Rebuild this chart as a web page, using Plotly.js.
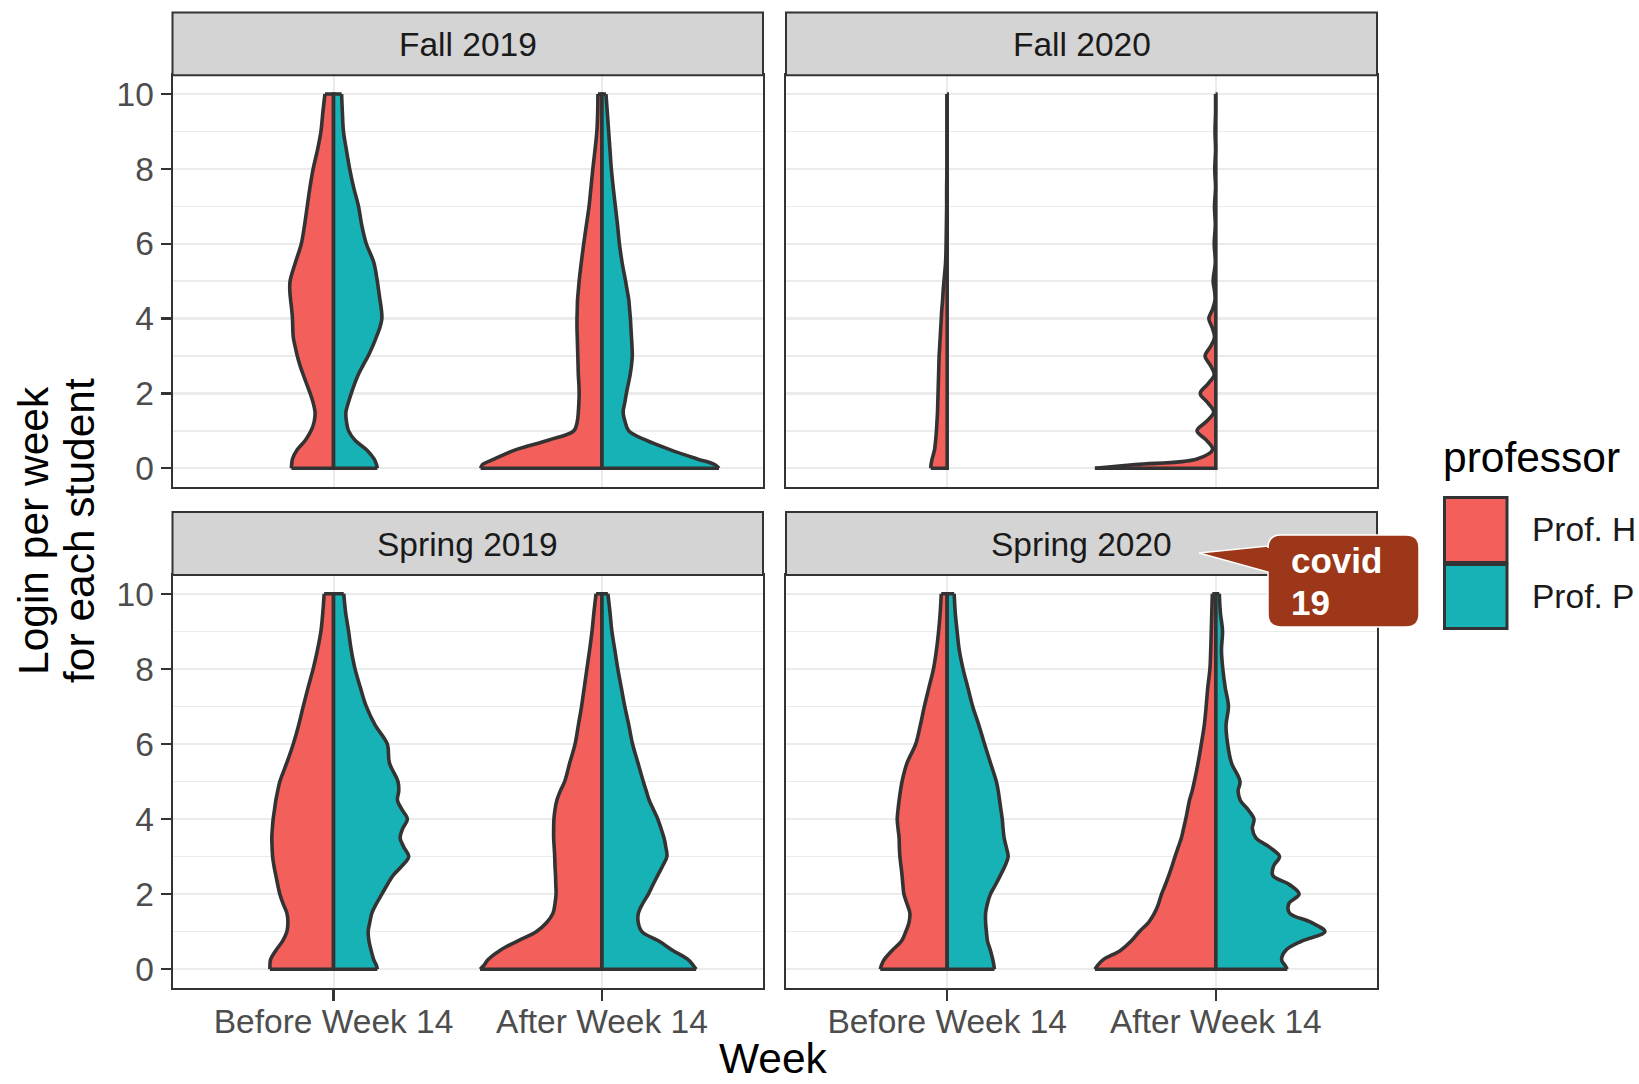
<!DOCTYPE html>
<html>
<head>
<meta charset="utf-8">
<script src="https://cdn.plot.ly/plotly-3.0.1.min.js"></script>
<style>html,body{margin:0;padding:0;background:#fff;}#chart{width:1639px;height:1084px;}</style>
</head>
<body>
<div id="chart"></div>
<script>
// ---------------- data ----------------
const terms = ['Fall 2019', 'Fall 2020', 'Spring 2019', 'Spring 2020'];
const weeks = ['Before Week 14', 'After Week 14'];
const professors = ['Prof. H', 'Prof. P'];
const yTickVals = [0, 2, 4, 6, 8, 10];

// login values at which the violin half-widths were read
const loginGrid = [0, 0.1, 0.25, 0.5, 0.75, 1, 1.25, 1.5, 1.75, 2, 2.25, 2.5, 2.75, 3, 3.25, 3.5, 3.75, 4, 4.25, 4.5, 4.75, 5, 5.5, 6, 6.5, 7, 7.5, 8, 8.5, 9, 9.5, 10];

// half-widths of each violin side (density scaled, in category units)
const fall2019_before_H = [0.157, 0.156, 0.153, 0.135, 0.105, 0.084, 0.072, 0.069, 0.076, 0.087, 0.100, 0.113, 0.125, 0.135, 0.143, 0.150, 0.152, 0.153, 0.156, 0.160, 0.163, 0.162, 0.142, 0.120, 0.108, 0.098, 0.088, 0.076, 0.060, 0.047, 0.040, 0.032];
const fall2019_before_P = [0.163, 0.160, 0.151, 0.122, 0.080, 0.056, 0.048, 0.046, 0.055, 0.066, 0.078, 0.092, 0.110, 0.129, 0.145, 0.159, 0.172, 0.180, 0.178, 0.173, 0.168, 0.163, 0.150, 0.122, 0.105, 0.093, 0.075, 0.060, 0.048, 0.037, 0.033, 0.030];
const fall2019_after_H  = [0.452, 0.445, 0.400, 0.320, 0.200, 0.105, 0.092, 0.088, 0.086, 0.085, 0.086, 0.088, 0.089, 0.090, 0.091, 0.092, 0.093, 0.093, 0.092, 0.091, 0.088, 0.085, 0.077, 0.068, 0.058, 0.048, 0.041, 0.034, 0.026, 0.019, 0.016, 0.015];
const fall2019_after_P  = [0.436, 0.420, 0.355, 0.253, 0.164, 0.100, 0.086, 0.079, 0.085, 0.091, 0.098, 0.105, 0.110, 0.113, 0.112, 0.110, 0.108, 0.106, 0.103, 0.100, 0.094, 0.088, 0.075, 0.065, 0.058, 0.050, 0.042, 0.035, 0.030, 0.025, 0.020, 0.015];
const fall2020_before_H = [0.061, 0.060, 0.056, 0.047, 0.043, 0.040, 0.038, 0.036, 0.035, 0.034, 0.033, 0.032, 0.031, 0.030, 0.028, 0.026, 0.024, 0.022, 0.020, 0.017, 0.015, 0.012, 0.006, 0.004, 0.003, 0.002, 0.002, 0.001, 0.001, 0.001, 0.001, 0.001];
const fall2020_after_H  = [0.450, 0.300, 0.070, 0.012, 0.035, 0.070, 0.035, 0.008, 0.030, 0.058, 0.030, 0.006, 0.020, 0.040, 0.020, 0.005, 0.013, 0.026, 0.012, 0.003, 0.005, 0.010, 0.002, 0.006, 0.002, 0.005, 0.001, 0.004, 0.001, 0.003, 0.001, 0.001];
const spring2019_before_H = [0.237, 0.237, 0.235, 0.215, 0.190, 0.174, 0.170, 0.174, 0.188, 0.200, 0.208, 0.215, 0.222, 0.227, 0.229, 0.230, 0.228, 0.225, 0.220, 0.215, 0.208, 0.200, 0.174, 0.150, 0.130, 0.113, 0.095, 0.076, 0.060, 0.047, 0.040, 0.035];
const spring2019_before_P = [0.163, 0.160, 0.150, 0.140, 0.132, 0.129, 0.135, 0.143, 0.160, 0.180, 0.200, 0.222, 0.255, 0.280, 0.262, 0.248, 0.258, 0.275, 0.255, 0.238, 0.243, 0.240, 0.208, 0.200, 0.155, 0.122, 0.100, 0.080, 0.066, 0.056, 0.045, 0.038];
const spring2019_after_H  = [0.454, 0.440, 0.425, 0.380, 0.315, 0.245, 0.205, 0.182, 0.175, 0.171, 0.172, 0.173, 0.175, 0.176, 0.178, 0.180, 0.180, 0.179, 0.175, 0.168, 0.155, 0.139, 0.120, 0.100, 0.088, 0.076, 0.066, 0.056, 0.046, 0.037, 0.030, 0.022];
const spring2019_after_P  = [0.351, 0.340, 0.322, 0.264, 0.212, 0.149, 0.135, 0.136, 0.152, 0.173, 0.190, 0.208, 0.226, 0.242, 0.238, 0.231, 0.220, 0.208, 0.192, 0.176, 0.165, 0.154, 0.134, 0.114, 0.100, 0.085, 0.072, 0.059, 0.048, 0.037, 0.030, 0.022];
const spring2020_before_H = [0.249, 0.245, 0.235, 0.205, 0.170, 0.154, 0.142, 0.139, 0.150, 0.161, 0.165, 0.168, 0.172, 0.176, 0.178, 0.179, 0.183, 0.186, 0.183, 0.179, 0.174, 0.168, 0.149, 0.117, 0.100, 0.085, 0.068, 0.051, 0.040, 0.032, 0.026, 0.022];
const spring2020_before_P = [0.176, 0.174, 0.170, 0.161, 0.150, 0.146, 0.143, 0.143, 0.150, 0.161, 0.180, 0.198, 0.215, 0.227, 0.220, 0.212, 0.208, 0.205, 0.200, 0.195, 0.190, 0.183, 0.161, 0.139, 0.118, 0.095, 0.077, 0.059, 0.045, 0.037, 0.030, 0.026];
const spring2020_after_H  = [0.450, 0.440, 0.420, 0.355, 0.315, 0.285, 0.250, 0.228, 0.213, 0.202, 0.188, 0.175, 0.163, 0.152, 0.140, 0.128, 0.120, 0.112, 0.105, 0.098, 0.088, 0.080, 0.066, 0.054, 0.043, 0.036, 0.030, 0.022, 0.019, 0.017, 0.015, 0.013];
const spring2020_after_P  = [0.266, 0.258, 0.245, 0.260, 0.320, 0.406, 0.355, 0.274, 0.272, 0.310, 0.275, 0.212, 0.215, 0.237, 0.200, 0.149, 0.136, 0.142, 0.120, 0.091, 0.083, 0.090, 0.058, 0.044, 0.038, 0.047, 0.035, 0.026, 0.021, 0.025, 0.017, 0.013];

const annotationText = ['covid', '19'];

// ---------------- assembly ----------------
const colors = {'Prof. H': '#F35F5A', 'Prof. P': '#17B2B5'};
const outline = '#333333';
const panelAxes = {
  'Fall 2019':   ['x',  'y'],
  'Fall 2020':   ['x2', 'y2'],
  'Spring 2019': ['x3', 'y3'],
  'Spring 2020': ['x4', 'y4']
};
const halves = [
  ['Fall 2019', 'Before Week 14', 'Prof. H', fall2019_before_H],
  ['Fall 2019', 'Before Week 14', 'Prof. P', fall2019_before_P],
  ['Fall 2019', 'After Week 14',  'Prof. H', fall2019_after_H],
  ['Fall 2019', 'After Week 14',  'Prof. P', fall2019_after_P],
  ['Fall 2020', 'Before Week 14', 'Prof. H', fall2020_before_H],
  ['Fall 2020', 'After Week 14',  'Prof. H', fall2020_after_H],
  ['Spring 2019', 'Before Week 14', 'Prof. H', spring2019_before_H],
  ['Spring 2019', 'Before Week 14', 'Prof. P', spring2019_before_P],
  ['Spring 2019', 'After Week 14',  'Prof. H', spring2019_after_H],
  ['Spring 2019', 'After Week 14',  'Prof. P', spring2019_after_P],
  ['Spring 2020', 'Before Week 14', 'Prof. H', spring2020_before_H],
  ['Spring 2020', 'Before Week 14', 'Prof. P', spring2020_before_P],
  ['Spring 2020', 'After Week 14',  'Prof. H', spring2020_after_H],
  ['Spring 2020', 'After Week 14',  'Prof. P', spring2020_after_P]
];

const LW = 3.6;
const traces = [];
halves.forEach(([term, week, prof, w]) => {
  const [xa, ya] = panelAxes[term];
  const pos = weeks.indexOf(week) + 1;
  const s = prof === 'Prof. H' ? -1 : 1;
  const n = loginGrid.length;
  // centre line with flat bottom and top edges
  traces.push({
    type: 'scatter', mode: 'lines', xaxis: xa, yaxis: ya, showlegend: false, hoverinfo: 'skip',
    x: [pos + s * w[0], pos, pos, pos + s * w[n - 1]],
    y: [loginGrid[0], loginGrid[0], loginGrid[n - 1], loginGrid[n - 1]],
    line: {color: outline, width: LW, shape: 'linear'}
  });
  // density outline, filled back to the centre line
  traces.push({
    type: 'scatter', mode: 'lines', xaxis: xa, yaxis: ya, showlegend: false, hoverinfo: 'skip',
    name: prof,
    x: w.map(v => pos + s * v),
    y: loginGrid,
    line: {color: outline, width: LW, shape: 'spline', smoothing: 1},
    fill: 'tonextx', fillcolor: colors[prof]
  });
});

// ---------------- layout ----------------
const W = 1639, H = 1084;
const PX = x => x / W;
const PY = y => 1 - y / H;

const col = [[172.5, 763], [786, 1377]];
const rowPlot = [[75.3, 487], [575, 988]];
const rowStrip = [[12.5, 75.3], [512, 575]];

const gridCol = '#EBEBEB';
function xAxis(c, r, anchor) {
  return {
    domain: [PX(col[c][0]), PX(col[c][1])], anchor: anchor,
    range: [0.4, 2.6], tickmode: 'array', tickvals: weeks.map((_, i) => i + 1), ticktext: weeks,
    showticklabels: r === 1, ticks: r === 1 ? 'outside' : '', ticklen: 11, tickwidth: 2.4, tickcolor: outline,
    ticklabelstandoff: -8,
    tickfont: {size: 33.5, color: '#4D4D4D'},
    showgrid: true, gridcolor: gridCol, gridwidth: 2, zeroline: false,
    showline: true, mirror: true, linecolor: outline, linewidth: 2, fixedrange: true
  };
}
function yAxis(c, r, anchor) {
  return {
    domain: [PY(rowPlot[r][1]), PY(rowPlot[r][0])], anchor: anchor,
    range: [-0.5, 10.5], tickmode: 'array', tickvals: yTickVals,
    showticklabels: c === 0, ticks: c === 0 ? 'outside' : '', ticklen: 10, tickwidth: 2.4, tickcolor: outline,
    tickfont: {size: 33.5, color: '#4D4D4D'},
    showgrid: true, gridcolor: gridCol, gridwidth: 2.2, zeroline: false,
    minor: {dtick: 1, tick0: 0, showgrid: true, gridcolor: gridCol, gridwidth: 1.4, ticks: ''},
    showline: true, mirror: true, linecolor: outline, linewidth: 2, fixedrange: true
  };
}

const shapes = [];
const annotations = [];
terms.forEach((t, i) => {
  const c = i % 2, r = Math.floor(i / 2);
  shapes.push({
    type: 'rect', xref: 'paper', yref: 'paper', layer: 'above',
    x0: PX(col[c][0]), x1: PX(col[c][1]), y0: PY(rowStrip[r][1]), y1: PY(rowStrip[r][0]),
    fillcolor: '#D4D4D4', line: {color: outline, width: 2}
  });
  annotations.push({
    xref: 'paper', yref: 'paper', x: PX((col[c][0] + col[c][1]) / 2), y: PY((rowStrip[r][0] + rowStrip[r][1]) / 2 + 1),
    text: t, showarrow: false, xanchor: 'center', yanchor: 'middle',
    font: {size: 33.5, color: '#1A1A1A'}
  });
});

// axis titles
annotations.push({xref: 'paper', yref: 'paper', x: PX(773.5), y: 0, text: 'Week', showarrow: false,
  xanchor: 'center', yanchor: 'bottom', font: {size: 42.5, color: '#000'}});
annotations.push({xref: 'paper', yref: 'paper', x: PX(33), y: PY(531), text: 'Login per week', showarrow: false,
  textangle: -90, xanchor: 'center', yanchor: 'middle', font: {size: 42.5, color: '#000'}});
annotations.push({xref: 'paper', yref: 'paper', x: PX(79), y: PY(531), text: 'for each student', showarrow: false,
  textangle: -90, xanchor: 'center', yanchor: 'middle', font: {size: 42.5, color: '#000'}});

// legend (drawn by hand to match the large ggplot keys)
annotations.push({xref: 'paper', yref: 'paper', x: PX(1441), y: PY(458), text: 'professor', showarrow: false,
  xanchor: 'left', yanchor: 'middle', font: {size: 42.5, color: '#000'}});
const keyY = [[497.5, 562.5], [564.5, 628.5]];
professors.forEach((p, i) => {
  shapes.push({type: 'rect', xref: 'paper', yref: 'paper', layer: 'above',
    x0: PX(1444.5), x1: PX(1507), y0: PY(keyY[i][1]), y1: PY(keyY[i][0]),
    fillcolor: colors[p], line: {color: outline, width: 3}});
  annotations.push({xref: 'paper', yref: 'paper', x: PX(1530), y: PY((keyY[i][0] + keyY[i][1]) / 2), text: p,
    showarrow: false, xanchor: 'left', yanchor: 'middle', font: {size: 33.5, color: '#1A1A1A'}});
});

// covid 19 call-out bubble
(function () {
  const X0 = 1268, X1 = 1419, Y0 = 535, Y1 = 627, rr = 13;
  const P = (x, y) => PX(x).toFixed(5) + ',' + PY(y).toFixed(5);
  const path = 'M' + P(X0 + rr, Y0) + ' L' + P(X1 - rr, Y0) + ' Q' + P(X1, Y0) + ' ' + P(X1, Y0 + rr) +
    ' L' + P(X1, Y1 - rr) + ' Q' + P(X1, Y1) + ' ' + P(X1 - rr, Y1) +
    ' L' + P(X0 + rr, Y1) + ' Q' + P(X0, Y1) + ' ' + P(X0, Y1 - rr) +
    ' L' + P(X0, 572) + ' L' + P(1199, 553) + ' L' + P(X0, 546) +
    ' L' + P(X0, Y0 + rr) + ' Q' + P(X0, Y0) + ' ' + P(X0 + rr, Y0) + ' Z';
  shapes.push({type: 'path', xref: 'paper', yref: 'paper', layer: 'above', path: path,
    fillcolor: '#9C3719', line: {color: '#FFFFFF', width: 1.5}});
  annotations.push({xref: 'paper', yref: 'paper', x: PX(1289), y: PY(560), text: '<b>' + annotationText[0] + '</b>',
    showarrow: false, xanchor: 'left', yanchor: 'middle', font: {size: 35, color: '#FFFFFF'}});
  annotations.push({xref: 'paper', yref: 'paper', x: PX(1289), y: PY(602), text: '<b>' + annotationText[1] + '</b>',
    showarrow: false, xanchor: 'left', yanchor: 'middle', font: {size: 35, color: '#FFFFFF'}});
})();

const layout = {
  width: W, height: H,
  margin: {l: 0, r: 0, t: 0, b: 0},
  paper_bgcolor: '#FFFFFF', plot_bgcolor: '#FFFFFF',
  font: {family: '"Liberation Sans", Arial, Helvetica, sans-serif', color: '#1A1A1A'},
  showlegend: false,
  xaxis:  xAxis(0, 0, 'y'),  yaxis:  yAxis(0, 0, 'x'),
  xaxis2: xAxis(1, 0, 'y2'), yaxis2: yAxis(1, 0, 'x2'),
  xaxis3: xAxis(0, 1, 'y3'), yaxis3: yAxis(0, 1, 'x3'),
  xaxis4: xAxis(1, 1, 'y4'), yaxis4: yAxis(1, 1, 'x4'),
  shapes: shapes,
  annotations: annotations,
  hovermode: false
};

Plotly.newPlot('chart', traces, layout, {staticPlot: true, displayModeBar: false});
</script>
</body>
</html>
